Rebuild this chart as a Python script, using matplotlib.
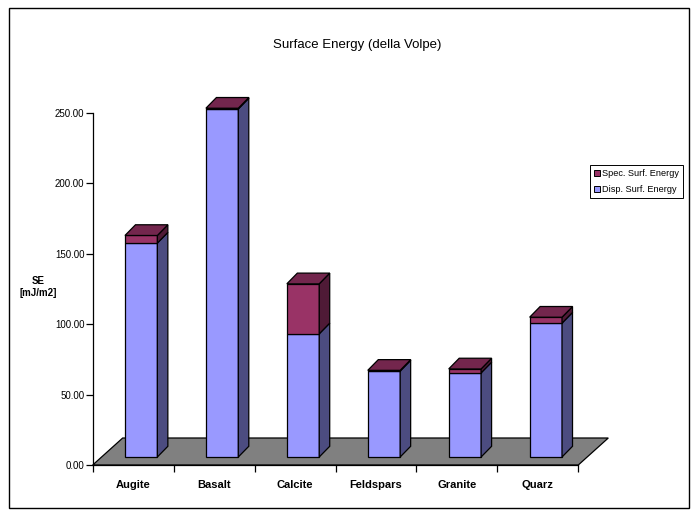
import matplotlib
matplotlib.use("Agg")
import matplotlib.pyplot as plt
from matplotlib import font_manager
from matplotlib.patches import Polygon, Rectangle, Patch

# Data: surface energy components per mineral / rock (mJ/m2)
categories = ["Augite", "Basalt", "Calcite", "Feldspars", "Granite", "Quarz"]
disp_energy = [151.8, 247.0, 87.4, 61.0, 59.7, 95.0]
spec_energy = [5.4, 0.5, 35.5, 0.5, 2.8, 4.2]
series_names = ["Spec. Surf. Energy", "Disp. Surf. Energy"]
y_ticks = [0, 50, 100, 150, 200, 250]

installed = {f.name for f in font_manager.fontManager.ttflist}
narrow = "Liberation Sans Narrow" if "Liberation Sans Narrow" in installed else "Liberation Sans"
base = "Liberation Sans"
plt.rcParams["font.family"] = [base, "DejaVu Sans"]

W, H, DPI = 697, 516, 100
fig = plt.figure(figsize=(W / DPI, H / DPI), dpi=DPI)

# axes placed in pixel terms
x0_px, x1_px = 92.7, 578.3
y0_px, y1_px = 465.0, 112.7
ax = fig.add_axes([x0_px / W, (H - y0_px) / H, (x1_px - x0_px) / W, (y0_px - y1_px) / H])
n = len(categories)
ax.set_xlim(-0.5, n - 0.5)
ax.set_ylim(0, 250)

px_x = (x1_px - x0_px) / n          # pixels per category unit
px_y = (y0_px - y1_px) / 250.0      # pixels per value unit

def dx(p):
    return p / px_x

def dy(p):
    return p / px_y

# oblique projection offsets
floor_dx, floor_dy = dx(30), dy(27)
front_dx, front_dy = dx(8), dy(8)
bar_dx, bar_dy = dx(10.5), dy(10.7)
bar_w = 0.4

edge = dict(edgecolor="black", linewidth=0.9, clip_on=False, joinstyle="miter")

# floor
floor = Polygon([(-0.5, 0), (n - 0.5, 0), (n - 0.5 + floor_dx, floor_dy), (-0.5 + floor_dx, floor_dy)],
                closed=True, facecolor="#808080", zorder=1, **edge)
ax.add_patch(floor)

disp_front, disp_side = "#9999FF", "#4C4C80"
spec_front, spec_side, spec_top = "#993366", "#4F1A36", "#73264D"

def box(xl, yb, h, front, side, top, z):
    xr = xl + bar_w
    yt = yb + h
    ax.add_patch(Polygon([(xl, yb), (xr, yb), (xr, yt), (xl, yt)], closed=True,
                         facecolor=front, zorder=z, **edge))
    ax.add_patch(Polygon([(xr, yb), (xr + bar_dx, yb + bar_dy), (xr + bar_dx, yt + bar_dy), (xr, yt)],
                         closed=True, facecolor=side, zorder=z, **edge))
    if top is not None:
        ax.add_patch(Polygon([(xl, yt), (xr, yt), (xr + bar_dx, yt + bar_dy), (xl + bar_dx, yt + bar_dy)],
                             closed=True, facecolor=top, zorder=z, **edge))

for i, (d, s) in enumerate(zip(disp_energy, spec_energy)):
    xl = i - bar_w / 2 + front_dx
    yb = front_dy
    box(xl, yb, d, disp_front, disp_side, None, 3)
    box(xl, yb + d, s, spec_front, spec_side, spec_top, 4)

# axes styling
for sp in ["top", "right"]:
    ax.spines[sp].set_visible(False)
ax.spines["left"].set_linewidth(0.9)
ax.spines["bottom"].set_linewidth(0.9)
ax.spines["left"].set_zorder(5)
ax.patch.set_visible(False)

ax.set_yticks(y_ticks)
ax.set_yticklabels([f"{v:.2f}" for v in y_ticks], fontsize=7, family=[narrow, "DejaVu Sans"])
ax.tick_params(axis="y", direction="out", length=5, width=0.9, pad=1)

ax.set_xticks(range(n))
ax.set_xticklabels(categories, fontsize=8, fontweight="bold")
ax.tick_params(axis="x", which="major", length=0, pad=11)
ax.set_xticks([i - 0.5 for i in range(n + 1)], minor=True)
ax.tick_params(axis="x", which="minor", direction="out", length=5, width=0.9)

fig.text(38 / W, 1 - 287 / H, "SE\n[mJ/m2]", ha="center", va="center",
         fontsize=7, fontweight="bold", linespacing=1.35)

fig.text(356.7 / W, 1 - 45 / H, "Surface Energy (della Volpe)", ha="center", va="center", fontsize=9.5)

# legend
handles = [Patch(facecolor=spec_front, edgecolor="black", linewidth=0.7),
           Patch(facecolor=disp_front, edgecolor="black", linewidth=0.7)]
leg = fig.legend(handles, series_names, loc="upper right",
                 bbox_to_anchor=(683 / W, 1 - 165 / H),
                 prop={"family": [narrow, "DejaVu Sans"], "size": 6.6},
                 frameon=True, fancybox=False, framealpha=1, edgecolor="black",
                 handlelength=0.7, handleheight=0.7, handletextpad=0.2,
                 borderpad=0.45, labelspacing=0.75, borderaxespad=0)
leg.get_frame().set_linewidth(0.7)

# outer chart border
fig.add_artist(Rectangle((9 / W, 1 - 508 / H), (689 - 9) / W, (508 - 8) / H,
                         transform=fig.transFigure, fill=False, edgecolor="black", linewidth=1.0))

fig.savefig("out.png", dpi=DPI)
